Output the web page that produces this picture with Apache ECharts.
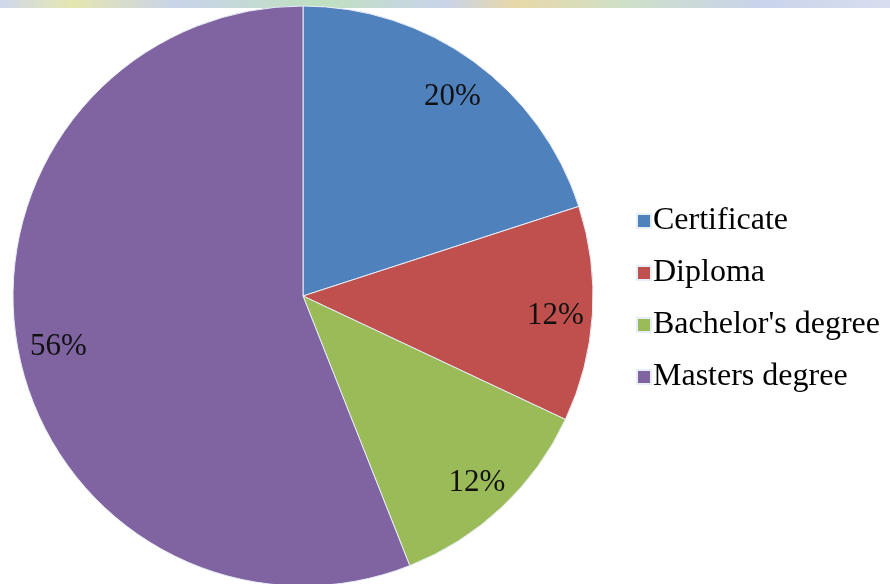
<!DOCTYPE html>
<html>
<head>
<meta charset="utf-8">
<script src="https://cdn.jsdelivr.net/npm/echarts@6/dist/echarts.min.js"></script>
<style>html,body{margin:0;padding:0;background:#fff}#c{width:890px;height:584px}</style>
</head>
<body>
<div id="c"></div>
<script>
const categories = ['Certificate', 'Diploma', "Bachelor's degree", 'Masters degree'];
const values = [20, 12, 12, 56];
const colors = ['#4F81BD', '#C0504D', '#9BBB59', '#8064A2'];

const chart = echarts.init(document.getElementById('c'), null, {renderer: 'canvas'});
const font = "'Liberation Serif', 'Times New Roman', serif";
const data = categories.map((n, i) => ({name: n, value: values[i], itemStyle: {color: colors[i]}}));

chart.setOption({
  animation: false,
  backgroundColor: '#fff',
  graphic: [{
    type: 'rect', shape: {x: 0, y: 0, width: 890, height: 8}, z: 0,
    style: {fill: new echarts.graphic.LinearGradient(0, 0, 1, 0, [
      {offset: 0, color: '#cfd8ee'}, {offset: 0.08, color: '#e6e6b0'}, {offset: 0.2, color: '#c9d3ea'},
      {offset: 0.36, color: '#bfe0c0'}, {offset: 0.5, color: '#c9d3ea'}, {offset: 0.58, color: '#e8d8a8'},
      {offset: 0.7, color: '#cfe0c8'}, {offset: 0.85, color: '#c9d3ea'}, {offset: 1, color: '#d8def0'}
    ])}
  }],
  legend: {
    orient: 'vertical',
    left: 631,
    top: 200,
    itemWidth: 14,
    itemHeight: 14,
    itemGap: 20,
    icon: 'rect',
    data: categories,
    textStyle: {fontFamily: font, fontSize: 32, color: '#000', padding: [0, 0, 0, -3]}
  },
  series: [{
    type: 'pie',
    center: [303, 296],
    radius: [0, 290],
    startAngle: 90,
    clockwise: true,
    label: {show: false},
    labelLine: {show: false},
    itemStyle: {borderColor: '#e8eef8', borderWidth: 1},
    emphasis: {disabled: true},
    data: data
  }, {
    type: 'pie',
    center: [303, 296],
    radius: [206, 290],
    startAngle: 90,
    clockwise: true,
    silent: true,
    itemStyle: {color: 'rgba(0,0,0,0)'},
    label: {show: true, position: 'inside', formatter: '{c}%', fontFamily: font, fontSize: 31, color: '#111', offset: [2, 4]},
    labelLine: {show: false},
    data: categories.map((n, i) => ({name: n, value: values[i], itemStyle: {color: 'rgba(0,0,0,0)'}}))
  }]
});
</script>
</body>
</html>
